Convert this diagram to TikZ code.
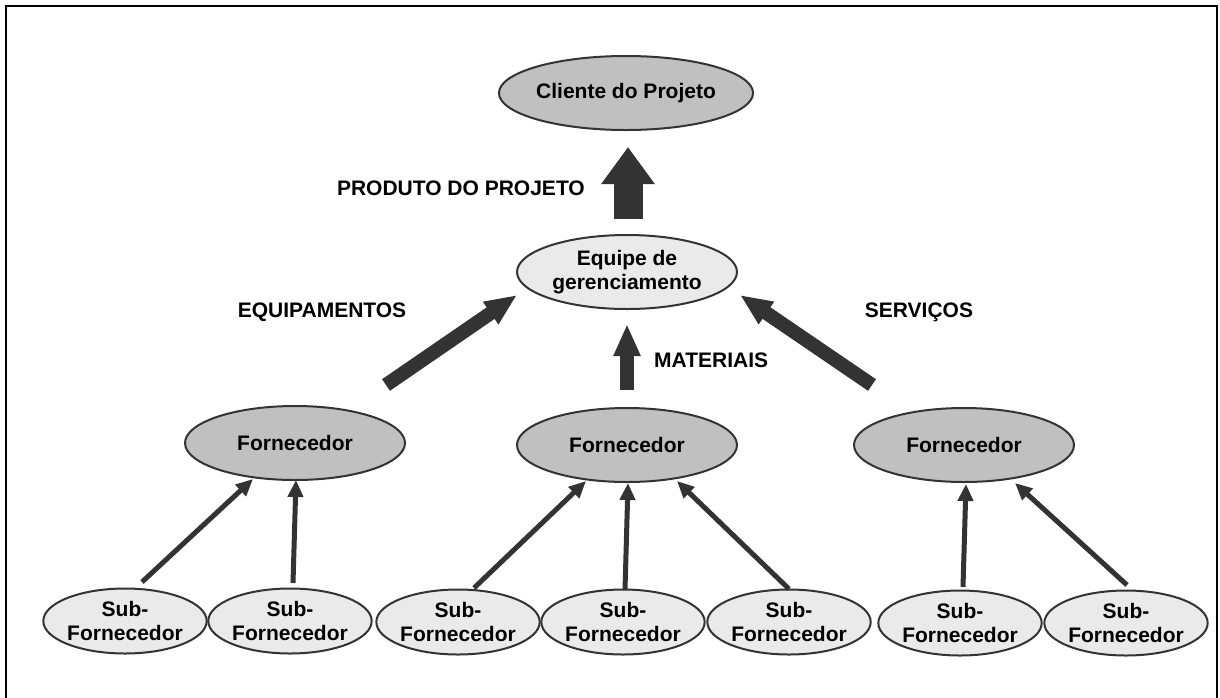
\documentclass[tikz,border=0pt]{standalone}
\usepackage{fontspec}
\setmainfont{Liberation Sans}
\usetikzlibrary{shapes.geometric,arrows.meta}
\definecolor{inkgray}{HTML}{333333}
\definecolor{darkfill}{HTML}{C0C0C0}
\definecolor{lightfill}{HTML}{EAEAEA}
\begin{document}
\begin{tikzpicture}[x=1pt,y=-1pt,
  every node/.style={font=\fontsize{21}{24}\selectfont\bfseries},
  oval/.style={ellipse, draw=inkgray, line width=2pt, inner sep=0pt, align=center},
  bigoval/.style={oval, fill=darkfill, minimum width=220pt, minimum height=74pt},
  teamoval/.style={oval, fill=lightfill, minimum width=220pt, minimum height=74pt},
  suboval/.style={oval, fill=lightfill, minimum width=155pt, minimum height=65pt},
  flow/.style={draw=inkgray, line width=14pt, -{Triangle[length=32pt,width=25pt]}},
  product/.style={draw=inkgray, line width=29pt, -{Triangle[length=37pt,width=51pt]}},
  supply/.style={draw=inkgray, line width=5pt, -{Triangle[length=17pt,width=15pt]}},
  label/.style={inner sep=0pt}
]
\useasboundingbox (0,0) rectangle (1220,697);
\draw[line width=2pt] (6,6) rectangle (1217,702);

% main nodes
\node[bigoval]  (cli) at (626,93)  {Cliente do Projeto};
\node[teamoval] (eq)  at (627,272) {Equipe de\\gerenciamento};
\node[bigoval]  (f1)  at (295,443) {Fornecedor};
\node[bigoval]  (f2)  at (627,445) {Fornecedor};
\node[bigoval]  (f3)  at (964,445) {Fornecedor};

% sub-suppliers
\node[suboval] (s1) at (125,621)  {Sub-\\Fornecedor};
\node[suboval] (s2) at (290,621)  {Sub-\\Fornecedor};
\node[suboval] (s3) at (458,622)  {Sub-\\Fornecedor};
\node[suboval] (s4) at (623,622)  {Sub-\\Fornecedor};
\node[suboval] (s5) at (789,622)  {Sub-\\Fornecedor};
\node[suboval] (s6) at (960,623)  {Sub-\\Fornecedor};
\node[suboval] (s7) at (1126,623) {Sub-\\Fornecedor};

% flow labels
\node[label, anchor=east] (lprod) at (585,188) {PRODUTO DO PROJETO};
\node[label] (lequip) at (322,312) {EQUIPAMENTOS};
\node[label] (lserv)  at (919,312) {SERVIÇOS};
\node[label, anchor=west] (lmat) at (654,360) {MATERIAIS};

% product to client
\draw[product] ([yshift=15pt]eq.north -| 628,0) -- ([yshift=-16pt]cli.south -| 628,0);

% supplier flows into the management team
\coordinate (eqT) at (386,385);
\coordinate (eqH) at (517,295);
\coordinate (svT) at (872,385);
\coordinate (svH) at (740,295);
\draw[flow] (eqT) -- (eqH);
\draw[flow] (svT) -- (svH);
\draw[flow] ([yshift=17pt]f2.north) -- ([yshift=-14pt]eq.south);

% sub-supplier arrows
\coordinate (a1) at (142,582);  \coordinate (b1) at (253,479);
\coordinate (a2) at (293,583);  \coordinate (b2) at (296,480);
\coordinate (a3) at (474,588);  \coordinate (b3) at (586,481);
\coordinate (a4) at (625,590);  \coordinate (b4) at (628,483);
\coordinate (a5) at (789,589);  \coordinate (b5) at (677,481);
\coordinate (a6) at (963,587);  \coordinate (b6) at (966,484);
\coordinate (a7) at (1127,585); \coordinate (b7) at (1015,483);
\foreach \i in {1,...,7} {
  \draw[supply] (a\i) -- (b\i);
}
\end{tikzpicture}
\end{document}
